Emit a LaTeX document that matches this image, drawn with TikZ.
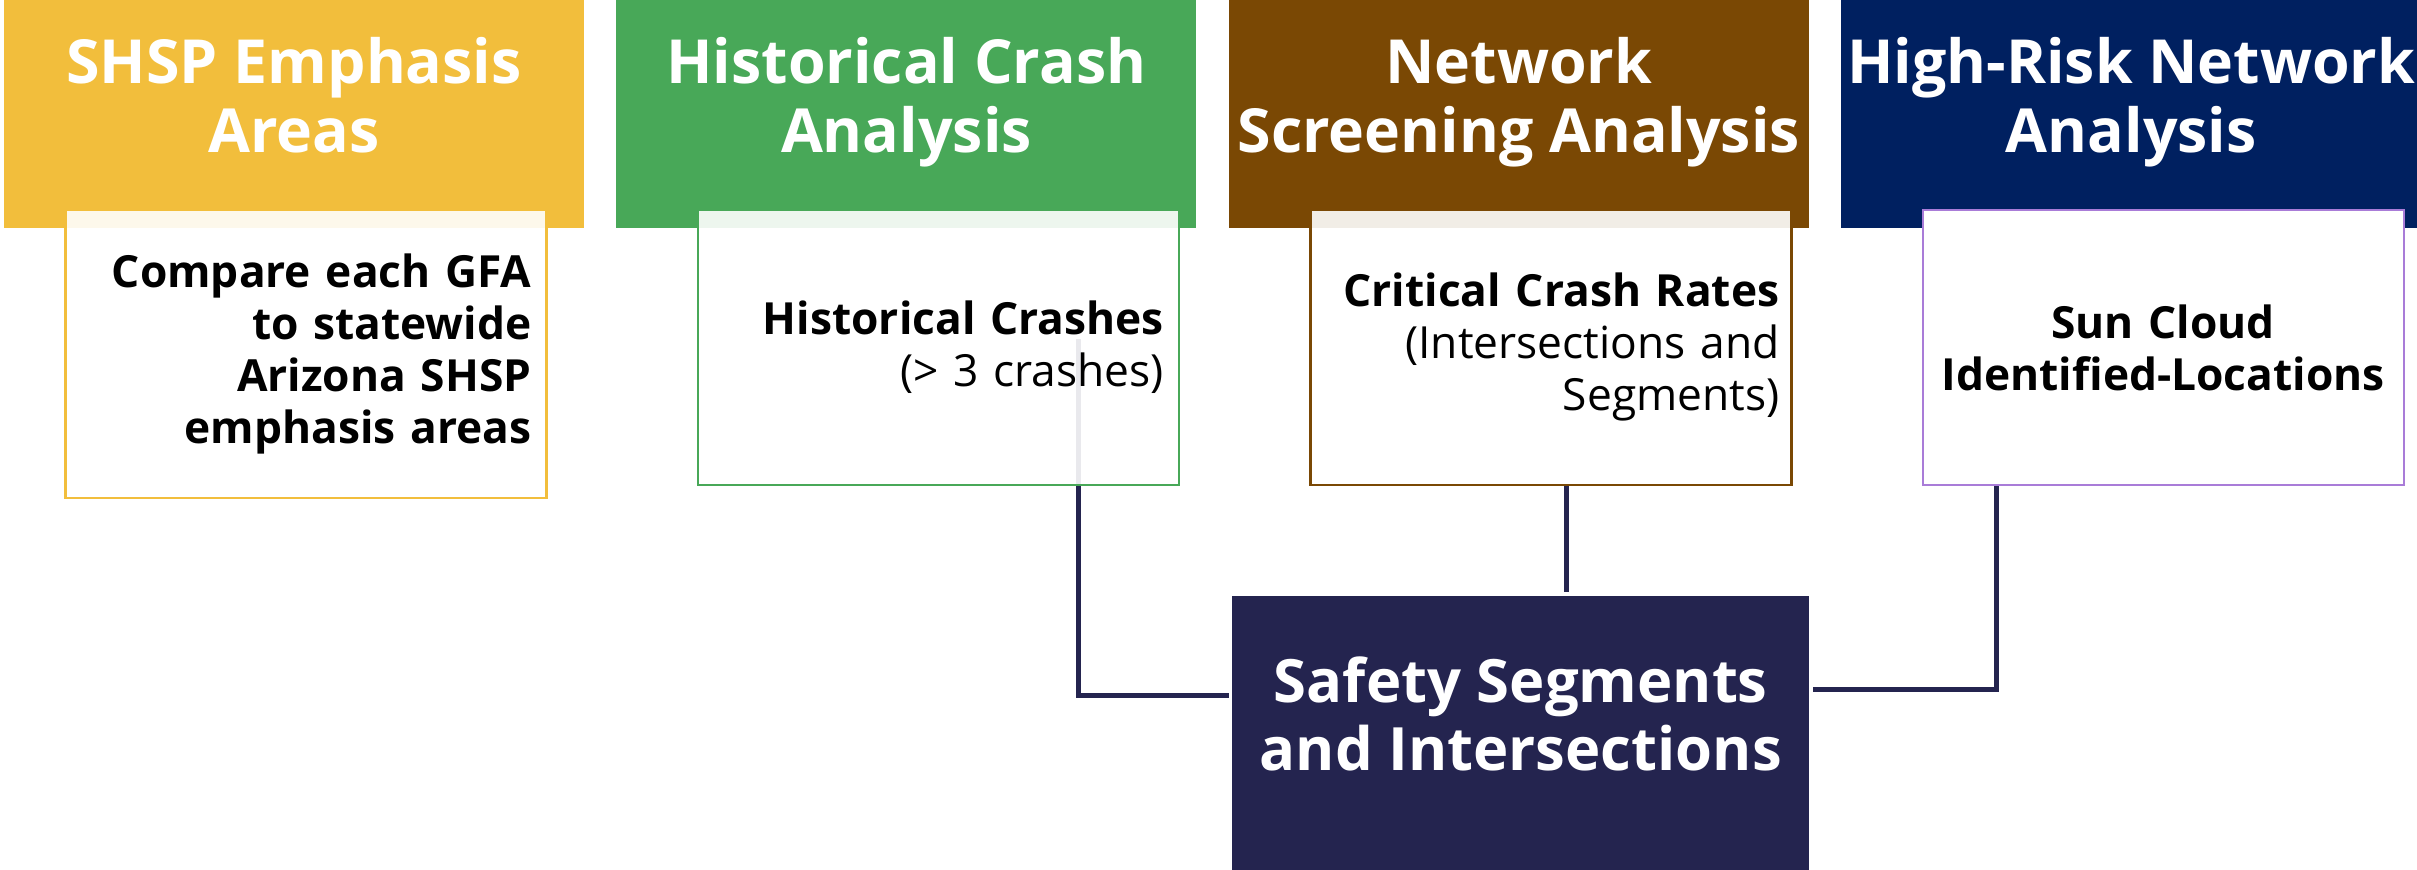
\documentclass[tikz,border=0pt]{standalone}
\usepackage{fontspec}
\setmainfont{Open Sans}
\usepackage{tikz}
\definecolor{ShspGold}{HTML}{F2BE3C}
\definecolor{CrashGreen}{HTML}{48A858}
\definecolor{ScreenBrown}{HTML}{7A4804}
\definecolor{RiskNavy}{HTML}{002060}
\definecolor{SunLavender}{HTML}{A97CD8}
\definecolor{SafetyInk}{HTML}{24244F}
\usetikzlibrary{backgrounds}
\usetikzlibrary{calc}
\usetikzlibrary{positioning}

\begin{document}
\begin{tikzpicture}[
    node distance=3.1mm and 3.1mm,
    hdr/.style={shape=rectangle,
      minimum width=58mm,
      minimum height=22.8mm,
      inner sep=0pt,
      text=white,
      align=center,
      font=\fontsize{17.3}{19.9}\selectfont\bfseries,
      text height=11.7mm,
      text depth=3.9mm},
    card/.style={shape=rectangle,
      draw,
      fill=white,
      line width=0.7pt,
      fill opacity=0.9,
      text opacity=1,
      text=black,
      inner xsep=1.5mm,
      inner ysep=0pt,
      text width=45.1mm,
      minimum height=27.5mm,
      align=right,
      font=\fontsize{12.6}{14.8}\selectfont},
    link/.style={draw=SafetyInk, line width=1.42pt}]

    \path [use as bounding box] (0,0) rectangle (241.7mm,86.9mm);

    % top row of headers
    \node[name=shsp, hdr, fill=ShspGold] at (29.4mm,75.5mm) {SHSP Emphasis\\Areas};
    \node[name=hist, hdr, fill=CrashGreen, right=of shsp] {Historical Crash\\Analysis};
    \node[name=screen, hdr, fill=ScreenBrown, right=of hist] {Network\\Screening Analysis};
    \node[name=risk, hdr, fill=RiskNavy, right=of screen] {High-Risk Network\\Analysis};

    % cards hanging under the headers
    \node[name=shspcard, card,
      draw=ShspGold,
      minimum height=28.8mm,
      below=-2mm of shsp, xshift=1.2mm] {\bfseries Compare each GFA\\to statewide\\Arizona SHSP\\emphasis areas};

    \node[name=histcard, card,
      draw=CrashGreen,
      below=-2mm of hist, xshift=3.2mm] {{\bfseries Historical Crashes}\\(> 3 crashes)};

    \node[name=screencard, card,
      draw=ScreenBrown,
      inner xsep=1.2mm,
      text width=45.7mm,
      below=-2mm of screen, xshift=3.2mm] {{\bfseries Critical Crash Rates}\\(Intersections and\\Segments)};

    \node[name=riskcard, card,
      draw=SunLavender,
      fill opacity=1,
      align=center,
      inner xsep=0.5mm,
      text width=47.1mm,
      below=-2mm of risk, xshift=3.2mm] {\bfseries Sun Cloud\\Identified-Locations};

    \node[name=safe,
      shape=rectangle,
      fill=SafetyInk,
      minimum width=57.7mm,
      minimum height=27.4mm,
      inner sep=0pt,
      text=white,
      align=center,
      font=\fontsize{17}{19.4}\selectfont\bfseries,
      text height=11.4mm,
      text depth=3.8mm,
      below=10.9mm of screencard, xshift=-3mm] {Safety Segments\\and Intersections};

    \coordinate (histtap) at ($(histcard.south west)!0.789!(histcard.south east) + (0,14.7mm)$);
    \coordinate (screentap) at ($(screencard.south)+(1.6mm,0)$);
    \coordinate (risktap) at ($(riskcard.south west)!0.155!(riskcard.south east)$);

    \begin{scope}[on background layer]
      \draw[link, shorten >=0.3mm] (histtap) |- ($(safe.west)+(0,3.7mm)$);
      \draw[link, shorten >=0.3mm] (screentap) -- (screentap |- safe.north);
      \draw[link, shorten >=0.3mm] (risktap) |- ($(safe.east)+(0,4.3mm)$);
    \end{scope}
  \end{tikzpicture}
\end{document}
